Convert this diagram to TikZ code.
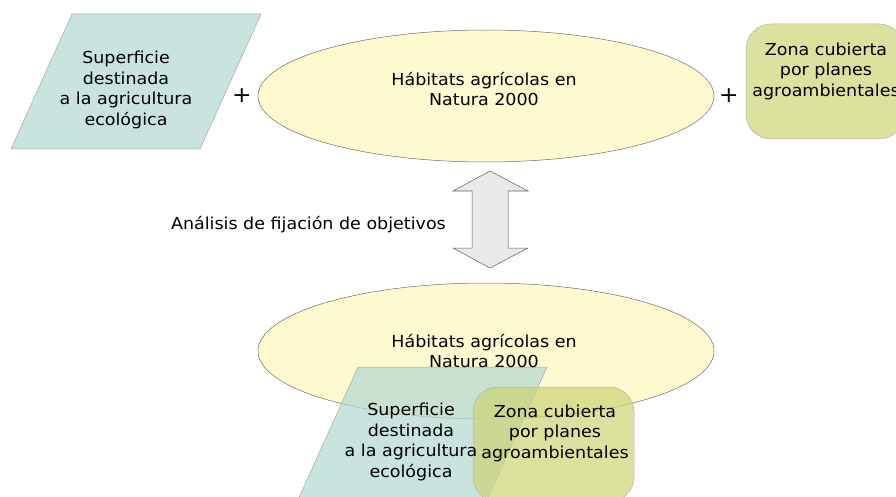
\documentclass[tikz,border=0pt]{standalone}
\usepackage{fontspec}
\setmainfont[FakeStretch=1.06]{DejaVu Sans}
\usetikzlibrary{calc}

\definecolor{habitat}{RGB}{254,249,206}
\definecolor{ecologica}{RGB}{178,216,209}
\definecolor{agroamb}{RGB}{205,212,116}

\begin{document}
\begin{tikzpicture}[x=1pt, y=-1pt,
	lbl/.style={align=center, font=\fontsize{16.5}{20.5}\selectfont, inner sep=0pt},
	plus/.style={font=\fontsize{22}{22}\selectfont, inner sep=0pt},
	habitatfill/.style={fill=habitat, draw=gray!85!black, line width=0.5pt},
	ecofill/.style={fill=ecologica, fill opacity=0.7, draw=gray!70, line width=0.5pt},
	agrofill/.style={fill=agroamb, fill opacity=0.7, draw=gray!60, line width=0.5pt, rounded corners=25pt}]
	\useasboundingbox (0,0) rectangle (896,497);

	\begin{scope}
	\draw[ecofill] (72,14) -- (261,14) -- (200,149) -- (11,149) -- cycle;
	\draw[habitatfill] (486,96) ellipse [x radius=228, y radius=66];
	\draw[agrofill] (746,24) rectangle (904,139);

	\node[lbl] (ecoA) at (126,90) {Superficie\\destinada\\a la agricultura\\ecológica};
	\node[lbl] (habA) at (484,89) {Hábitats agrícolas en\\Natura 2000};
	\node[lbl] (agroA) at (826,71) {Zona cubierta\\por planes\\agroambientales};
	\node[plus] (plusA) at (242,96) {+};
	\node[plus] (plusB) at (729,96) {+};
	\end{scope}

	\begin{scope}
	\draw[fill=gray!17, draw=gray!75!black, line width=0.5pt] (490,171) -- (528,191) -- (508,191) -- (508,248) -- (528,248)
		-- (490,268) -- (453,248) -- (472,248) -- (472,191) -- (453,191) -- cycle;
	\node[lbl, anchor=east] (analisis) at (446,225) {Análisis de fijación de objetivos};
	\end{scope}

	\begin{scope}
	\draw[habitatfill] (486,351) ellipse [x radius=228, y radius=68];
	\draw[ecofill] (358,367) -- (547,367) -- (486,502) -- (297,502) -- cycle;
	\draw[agrofill] (473,387) rectangle (634,502);

	\node[lbl] (habB) at (484,351) {Hábitats agrícolas en\\Natura 2000};
	\node[lbl] (ecoB) at (411,442) {Superficie\\destinada\\a la agricultura\\ecológica};
	\node[lbl] (agroB) at (555,433) {Zona cubierta\\por planes\\agroambientales};
	\end{scope}
\end{tikzpicture}
\end{document}
